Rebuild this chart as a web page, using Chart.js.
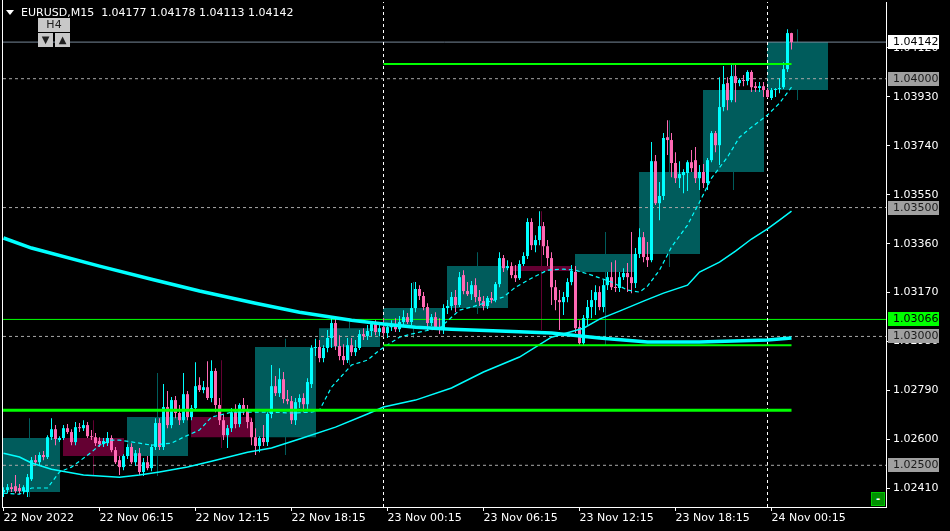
<!DOCTYPE html>
<html lang="en">
<head>
<meta charset="UTF-8" />
<title>EURUSD,M15</title>
<script src="https://cdn.jsdelivr.net/npm/chart.js@4.4.0/dist/chart.umd.min.js"></script>
<style>
  html, body { margin: 0; padding: 0; background: #000; }
  #wrap { position: relative; width: 950px; height: 531px; overflow: hidden; background: #000; }
  #chart { position: absolute; left: 0; top: 0; }
  .title { position: absolute; left: 21px; top: 6px; color: #fff; font: 11px "DejaVu Sans", sans-serif; white-space: pre; line-height: 13px; }
  .tri { position: absolute; left: 6px; top: 10px; width: 0; height: 0; border-left: 4px solid transparent; border-right: 4px solid transparent; border-top: 5px solid #fff; }
  .btn { position: absolute; background: #c8c8c8; color: #202020; font: 11px "DejaVu Sans", sans-serif; text-align: center; box-sizing: border-box; }
  .minus { position: absolute; left: 871px; top: 492px; width: 14px; height: 14px; box-sizing: border-box; background: #009000; border: 1px solid #00c800; color: #fff; font: bold 10px "DejaVu Sans", sans-serif; text-align: center; line-height: 11px; }
</style>
</head>
<body>
<div id="wrap">
  <canvas id="chart" width="950" height="531"></canvas>
  <div class="tri"></div>
  <div class="title" id="title"></div>
  <div class="btn" style="left:38px;top:18px;width:32px;height:14px;line-height:14px;">H4</div>
  <div class="btn" style="left:38px;top:33px;width:15px;height:14px;line-height:14px;font-size:10px;">&#9660;</div>
  <div class="btn" style="left:55px;top:33px;width:15px;height:14px;line-height:14px;font-size:10px;">&#9650;</div>
  <div class="minus">-</div>
</div>
<script>
// EURUSD M15 bars, index 0 = 22 Nov 2022 00:00, one step = 15 minutes
const firstBar = 1;
const open = [
  1.02396,1.02404,1.02415,1.02419,1.02412,1.02400,1.02396,1.02446,1.02520,1.02512,1.02540,1.02532,1.02609,1.02640,1.02598,
  1.02606,1.02644,1.02629,1.02590,1.02648,1.02644,1.02656,1.02613,1.02609,1.02594,1.02582,1.02586,1.02606,1.02559,1.02520,1.02493,
  1.02536,1.02571,1.02512,1.02547,1.02474,1.02512,1.02489,1.02571,1.02664,1.02571,1.02726,1.02656,1.02753,1.02703,1.02675,1.02776,
  1.02687,1.02722,1.02811,1.02792,1.02803,1.02761,1.02866,1.02734,1.02675,1.02617,1.02644,1.02706,1.02660,1.02734,1.02714,1.02668,
  1.02609,1.02575,1.02606,1.02590,1.02699,1.02807,1.02780,1.02834,1.02757,1.02749,1.02675,1.02745,1.02761,1.02737,1.02815,1.02955,
  1.02959,1.02916,1.02955,1.02994,1.03052,1.02963,1.02924,1.02908,1.02966,1.02939,1.02955,1.03009,1.03001,1.03021,1.03048,1.03017,
  1.03036,1.03013,1.03036,1.03048,1.03028,1.03056,1.03075,1.03056,1.03110,1.03184,1.03157,1.03114,1.03052,1.03075,1.03036,1.03025,
  1.03110,1.03118,1.03153,1.03122,1.03238,1.03176,1.03164,1.03199,1.03153,1.03137,1.03118,1.03149,1.03141,1.03203,1.03304,1.03265,
  1.03273,1.03238,1.03226,1.03281,1.03312,1.03444,1.03354,1.03374,1.03428,1.03350,1.03304,1.03191,1.03141,1.03133,1.03153,1.03211,
  1.03250,1.03036,1.02974,1.03071,1.03114,1.03141,1.03172,1.03114,1.03199,1.03230,1.03191,1.03188,1.03230,1.03246,1.03230,1.03207,
  1.03320,1.03385,1.03308,1.03296,1.03680,1.03517,1.03545,1.03773,1.03762,1.03673,1.03614,1.03626,1.03634,1.03676,1.03684,1.03614,
  1.03638,1.03595,1.03684,1.03789,1.03742,1.03890,1.03983,1.03917,1.04010,1.03983,1.03995,1.03991,1.04026,1.03971,1.03964,1.03971,
  1.03956,1.03925,1.03956,1.03960,1.03967,1.04037,1.04177
];
const high = [
  1.02415,1.02427,1.02431,1.02462,1.02427,1.02423,1.02466,1.02532,1.02540,1.02551,1.02555,1.02617,1.02683,1.02656,1.02613,
  1.02656,1.02660,1.02640,1.02668,1.02664,1.02675,1.02668,1.02637,1.02625,1.02609,1.02606,1.02629,1.02617,1.02571,1.02536,1.02543,
  1.02582,1.02586,1.02559,1.02567,1.02528,1.02536,1.02582,1.02683,1.02683,1.02815,1.02788,1.02765,1.02769,1.02734,1.02858,1.02788,
  1.02734,1.02900,1.02842,1.02827,1.02904,1.02908,1.02877,1.02761,1.02695,1.02656,1.02722,1.02737,1.02741,1.02761,1.02734,1.02683,
  1.02644,1.02613,1.02656,1.02706,1.02889,1.02846,1.02877,1.02862,1.02792,1.02769,1.02761,1.02776,1.02780,1.02838,1.02966,1.02991,
  1.02986,1.02966,1.03025,1.03071,1.03071,1.03005,1.02970,1.02994,1.02994,1.02986,1.03025,1.03032,1.03044,1.03056,1.03063,1.03056,
  1.03071,1.03048,1.03063,1.03071,1.03079,1.03102,1.03091,1.03207,1.03211,1.03199,1.03172,1.03129,1.03087,1.03094,1.03071,1.03125,
  1.03141,1.03172,1.03180,1.03250,1.03257,1.03211,1.03215,1.03226,1.03180,1.03157,1.03157,1.03172,1.03211,1.03327,1.03316,1.03296,
  1.03288,1.03277,1.03296,1.03327,1.03459,1.03459,1.03393,1.03486,1.03444,1.03374,1.03327,1.03219,1.03180,1.03172,1.03226,1.03277,
  1.03273,1.03063,1.03083,1.03141,1.03180,1.03199,1.03195,1.03219,1.03250,1.03288,1.03296,1.03250,1.03265,1.03285,1.03405,1.03343,
  1.03420,1.03405,1.03366,1.03754,1.03704,1.03599,1.03789,1.03839,1.03789,1.03715,1.03680,1.03649,1.03684,1.03723,1.03735,1.03665,
  1.03669,1.03692,1.03797,1.03797,1.04006,1.04049,1.04006,1.04053,1.04053,1.04002,1.04014,1.04033,1.04033,1.03987,1.03987,1.03987,
  1.03964,1.03964,1.03964,1.04002,1.04064,1.04192,1.04178
];
const low = [
  1.02377,1.02392,1.02396,1.02392,1.02388,1.02388,1.02377,1.02439,1.02505,1.02501,1.02520,1.02524,1.02598,1.02578,1.02590,
  1.02598,1.02621,1.02578,1.02578,1.02629,1.02633,1.02606,1.02598,1.02575,1.02571,1.02571,1.02575,1.02551,1.02505,1.02462,1.02481,
  1.02524,1.02505,1.02497,1.02462,1.02458,1.02481,1.02477,1.02559,1.02559,1.02559,1.02644,1.02644,1.02683,1.02656,1.02664,1.02675,
  1.02675,1.02714,1.02784,1.02780,1.02753,1.02745,1.02706,1.02656,1.02598,1.02567,1.02629,1.02644,1.02648,1.02695,1.02644,1.02578,
  1.02540,1.02551,1.02575,1.02575,1.02683,1.02769,1.02765,1.02741,1.02737,1.02660,1.02656,1.02722,1.02706,1.02714,1.02800,1.02924,
  1.02900,1.02900,1.02939,1.02955,1.02947,1.02908,1.02889,1.02897,1.02924,1.02924,1.02947,1.02986,1.02986,1.03001,1.03005,1.03001,
  1.03001,1.02994,1.03021,1.03017,1.03017,1.03040,1.03048,1.03044,1.03094,1.03141,1.03102,1.03025,1.03040,1.03025,1.03009,1.03009,
  1.03087,1.03102,1.03094,1.03114,1.03164,1.03157,1.03141,1.03133,1.03118,1.03102,1.03106,1.03129,1.03133,1.03191,1.03250,1.03257,
  1.03226,1.03211,1.03219,1.03273,1.03300,1.03335,1.03327,1.03354,1.03316,1.03273,1.03122,1.03102,1.03025,1.03083,1.03133,1.03199,
  1.03013,1.02963,1.02966,1.03044,1.03071,1.03083,1.03102,1.03094,1.03180,1.03180,1.03172,1.03172,1.03219,1.03172,1.03168,1.03188,
  1.03304,1.03288,1.03269,1.03288,1.03510,1.03451,1.03529,1.03704,1.03618,1.03595,1.03576,1.03556,1.03564,1.03638,1.03595,1.03568,
  1.03576,1.03568,1.03676,1.03715,1.03665,1.03874,1.03878,1.03909,1.03909,1.03971,1.03971,1.03975,1.03948,1.03948,1.03948,1.03929,
  1.03925,1.03917,1.03929,1.03944,1.03960,1.04026,1.04113
];
const close = [
  1.02404,1.02415,1.02408,1.02400,1.02400,1.02415,1.02454,1.02520,1.02512,1.02540,1.02532,1.02609,1.02640,1.02602,1.02606,
  1.02644,1.02629,1.02590,1.02648,1.02644,1.02656,1.02613,1.02609,1.02586,1.02582,1.02594,1.02606,1.02559,1.02512,1.02493,1.02536,
  1.02571,1.02512,1.02547,1.02474,1.02512,1.02489,1.02571,1.02664,1.02571,1.02726,1.02656,1.02753,1.02703,1.02675,1.02776,1.02687,
  1.02722,1.02807,1.02792,1.02803,1.02761,1.02866,1.02734,1.02675,1.02617,1.02644,1.02706,1.02660,1.02734,1.02714,1.02668,1.02609,
  1.02575,1.02606,1.02590,1.02699,1.02807,1.02780,1.02834,1.02757,1.02749,1.02675,1.02745,1.02761,1.02737,1.02823,1.02955,1.02959,
  1.02916,1.02955,1.02994,1.03052,1.02963,1.02924,1.02908,1.02966,1.02939,1.02955,1.03009,1.03001,1.03021,1.03048,1.03017,1.03032,
  1.03013,1.03036,1.03048,1.03028,1.03056,1.03075,1.03056,1.03110,1.03184,1.03157,1.03114,1.03052,1.03075,1.03036,1.03025,1.03110,
  1.03118,1.03153,1.03122,1.03230,1.03176,1.03164,1.03199,1.03153,1.03137,1.03118,1.03149,1.03141,1.03203,1.03304,1.03265,1.03273,
  1.03238,1.03226,1.03281,1.03312,1.03444,1.03354,1.03374,1.03428,1.03350,1.03304,1.03191,1.03141,1.03133,1.03153,1.03211,1.03254,
  1.03032,1.02974,1.03071,1.03114,1.03141,1.03172,1.03114,1.03199,1.03230,1.03191,1.03188,1.03230,1.03246,1.03230,1.03207,1.03320,
  1.03385,1.03308,1.03296,1.03680,1.03517,1.03545,1.03770,1.03762,1.03673,1.03614,1.03630,1.03638,1.03676,1.03653,1.03614,1.03638,
  1.03595,1.03684,1.03789,1.03742,1.03890,1.03979,1.03917,1.04010,1.03983,1.03995,1.03991,1.04026,1.03967,1.03964,1.03971,1.03956,
  1.03929,1.03956,1.03960,1.03964,1.04037,1.04177,1.04142
];

// moving averages, sampled at bar indices
const slowMaIdx = [1, 8, 25, 38, 50, 64, 75, 88, 96, 104, 113, 125, 138, 150, 162, 175, 192, 198];
const slowMa = [1.03382,1.03343,1.03273,1.03222,1.03176,1.03129,1.03094,1.03063,1.03048,1.03036,1.03028,1.03021,1.03013,1.02994,1.02978,1.02978,1.02986,1.02994];
const midMaIdx = [1,5,8,13,21,30,35,40,47,53,62,68,75,84,92,96,104,113,121,130,138,146,150,155,161,166,172,175,180,184,188,192,195,198];
const midMa = [1.02547,1.02532,1.02509,1.02485,1.02462,1.02454,1.02462,1.02474,1.02493,1.02516,1.02551,1.02567,1.02602,1.02648,1.02699,1.02726,1.02753,1.02800,1.02862,1.02920,1.02997,1.03032,1.03067,1.03098,1.03137,1.03168,1.03199,1.03250,1.03288,1.03331,1.03378,1.03417,1.03451,1.03486];
const fastMaIdx = [1,5,8,12,15,18,20,23,25,28,30,35,38,43,46,50,53,58,63,68,73,78,80,83,88,92,95,100,105,110,115,118,122,126,129,133,137,141,144,148,153,157,160,162,165,168,172,175,178,182,185,188,192,195,198];
const fastMa = [1.02392,1.02388,1.02412,1.02412,1.02474,1.02493,1.02516,1.02551,1.02578,1.02598,1.02598,1.02586,1.02578,1.02586,1.02609,1.02637,1.02687,1.02706,1.02706,1.02706,1.02703,1.02706,1.02714,1.02803,1.02889,1.02908,1.02947,1.02997,1.03017,1.03032,1.03102,1.03114,1.03133,1.03153,1.03191,1.03226,1.03257,1.03261,1.03257,1.03238,1.03211,1.03180,1.03172,1.03195,1.03257,1.03347,1.03432,1.03521,1.03614,1.03696,1.03773,1.03812,1.03859,1.03905,1.03967];

// levels on the chart
const roundLevels = [1.04000, 1.03500, 1.03000, 1.02500];
const userLevel = 1.03066;
const greenLevels = [1.04057, 1.02966, 1.02714];
const greenFrom = [96, 96, 0];
const greenTo = [198, 198, 198];
const daySeparators = [96, 192];

// axis ticks
const yTicks = [1.02410, 1.02600, 1.02790, 1.02980, 1.03170, 1.03360, 1.03550, 1.03740, 1.03930, 1.04120];
const xTickIdx = [1, 25, 49, 73, 97, 121, 145, 169, 193];
const xTickLabels = ['22 Nov 2022', '22 Nov 06:15', '22 Nov 12:15', '22 Nov 18:15', '23 Nov 00:15', '23 Nov 06:15', '23 Nov 12:15', '23 Nov 18:15', '24 Nov 00:15'];

const X_MIN = 0.875, X_MAX = 221.625;
const Y_MIN = 1.023382, Y_MAX = 1.042976;

const BULL = '#00ffff', BEAR = '#ff69b4';
const H4_BULL = '#005c5c', H4_BEAR = '#640032';
const FONT = { family: '"DejaVu Sans", sans-serif', size: 11 };

const last = close.length - 1;
const bid = close[last];
document.getElementById('title').textContent =
  'EURUSD,M15  ' + [open[last], high[last], low[last], close[last]].map(v => v.toFixed(5)).join(' ');

// H4 candles built from the M15 bars
const h4 = [];
open.forEach((o, k) => {
  const i = firstBar + k;
  const g = Math.floor(i / 16);
  let b = h4.find(x => x.g === g);
  if (!b) { b = { g, o, h: high[k], l: low[k], c: close[k] }; h4.push(b); }
  else { b.h = Math.max(b.h, high[k]); b.l = Math.min(b.l, low[k]); b.c = close[k]; }
});

const barColor = ctx => close[ctx.dataIndex] >= open[ctx.dataIndex] ? BULL : BEAR;
const h4Color = ctx => h4[ctx.dataIndex].c >= h4[ctx.dataIndex].o ? H4_BULL : H4_BEAR;

function hline(v, from, to, color, width, dash, order) {
  return {
    type: 'line', data: [{ x: from, y: v }, { x: to, y: v }],
    borderColor: color, borderWidth: width, borderDash: dash || [],
    pointRadius: 0, order: order, clip: 0
  };
}
function maLine(idx, vals, width, dash) {
  return {
    type: 'line', data: idx.map((x, k) => ({ x: x, y: vals[k] })),
    borderColor: BULL, borderWidth: width, borderDash: dash || [],
    pointRadius: 0, tension: 0, order: 3, clip: 0
  };
}

const datasets = [
  { type: 'bar', data: h4.map(b => ({ x: b.g * 16 + 7.5, y: [b.l, b.h] })), backgroundColor: h4Color,
    barThickness: 1, grouped: false, inflateAmount: 0, order: 10, clip: 0 },
  { type: 'bar', data: h4.map(b => ({ x: b.g * 16 + 7.5, y: [b.o, b.c] })), backgroundColor: h4Color,
    barThickness: 61, grouped: false, inflateAmount: 0, order: 9, clip: 0 },
  ...roundLevels.map(v => hline(v, X_MIN, X_MAX, '#a8a8a8', 1, [3, 3], 8)),
  ...daySeparators.map(s => ({
    type: 'line', data: [{ x: s, y: Y_MIN }, { x: s, y: Y_MAX }], borderColor: '#ffffff',
    borderWidth: 1, borderDash: [3, 3], pointRadius: 0, order: 8, clip: 0
  })),
  hline(bid, X_MIN, X_MAX, '#778899', 1, [], 8),
  hline(userLevel, X_MIN, X_MAX, '#00ff00', 1, [], 8),
  { type: 'bar', data: open.map((o, k) => ({ x: firstBar + k, y: [low[k], high[k]] })), backgroundColor: barColor,
    barThickness: 1, grouped: false, inflateAmount: 0, order: 6, clip: 0 },
  { type: 'bar', data: open.map((o, k) => ({ x: firstBar + k, y: [o, close[k]] })), backgroundColor: barColor,
    barThickness: 3, minBarLength: 1, grouped: false, inflateAmount: 0, order: 5, clip: 0 },
  maLine(slowMaIdx, slowMa, 3.5),
  maLine(midMaIdx, midMa, 1.5),
  maLine(fastMaIdx, fastMa, 1.2, [4, 3]),
  ...greenLevels.map((v, k) => hline(v, greenFrom[k], greenTo[k], '#00ff00', k === 2 ? 3 : 2, [], 1))
];

const tags = [
  ...roundLevels.map(v => ({ v: v, bg: '#a0a0a0', fg: '#1a1a1a' })),
  { v: userLevel, bg: '#00ff00', fg: '#000000' },
  { v: bid, bg: '#ffffff', fg: '#000000' }
];

const frame = {
  id: 'frame',
  afterDraw(chart) {
    const { ctx, scales: { y } } = chart;
    ctx.save();
    ctx.fillStyle = '#ffffff';
    ctx.fillRect(2, 0, 1, chart.chartArea.bottom + 1);
    ctx.font = '11px "DejaVu Sans", sans-serif';
    ctx.textBaseline = 'middle';
    ctx.textAlign = 'left';
    tags.forEach(t => {
      const py = Math.round(y.getPixelForValue(t.v));
      ctx.fillStyle = t.bg;
      ctx.fillRect(888, py - 7, 51, 14);
      ctx.fillStyle = t.fg;
      ctx.fillText(t.v.toFixed(5), 893, py + 0.5);
    });
    ctx.restore();
  }
};

new Chart(document.getElementById('chart'), {
  type: 'bar',
  data: { datasets: datasets },
  options: {
    responsive: false,
    devicePixelRatio: 1,
    animation: false,
    events: [],
    layout: { padding: { left: 3, top: 2, right: 0, bottom: 0 } },
    plugins: { legend: { display: false }, tooltip: { enabled: false } },
    scales: {
      x: {
        type: 'linear', min: X_MIN, max: X_MAX, offset: false,
        afterBuildTicks: s => { s.ticks = xTickIdx.map(v => ({ value: v })); },
        afterFit: s => { s.height = 24; s.paddingLeft = 0; s.paddingRight = 0; },
        grid: { drawOnChartArea: false, drawTicks: true, tickLength: 4, color: '#ffffff', offset: false },
        border: { display: true, color: '#ffffff' },
        ticks: { color: '#ffffff', font: FONT, padding: 1, align: 'start', maxRotation: 0, autoSkip: false,
          callback: (v, k) => xTickLabels[k] }
      },
      y: {
        type: 'linear', position: 'right', min: Y_MIN, max: Y_MAX,
        afterBuildTicks: s => { s.ticks = yTicks.map(v => ({ value: v })); },
        afterFit: s => { s.width = 64; s.paddingTop = 0; s.paddingBottom = 0; },
        grid: { drawOnChartArea: false, drawTicks: true, tickLength: 4, color: '#ffffff' },
        border: { display: true, color: '#ffffff' },
        ticks: { color: '#ffffff', font: FONT, padding: 3, autoSkip: false, callback: v => v.toFixed(5) }
      }
    }
  },
  plugins: [frame]
});
</script>
</body>
</html>
